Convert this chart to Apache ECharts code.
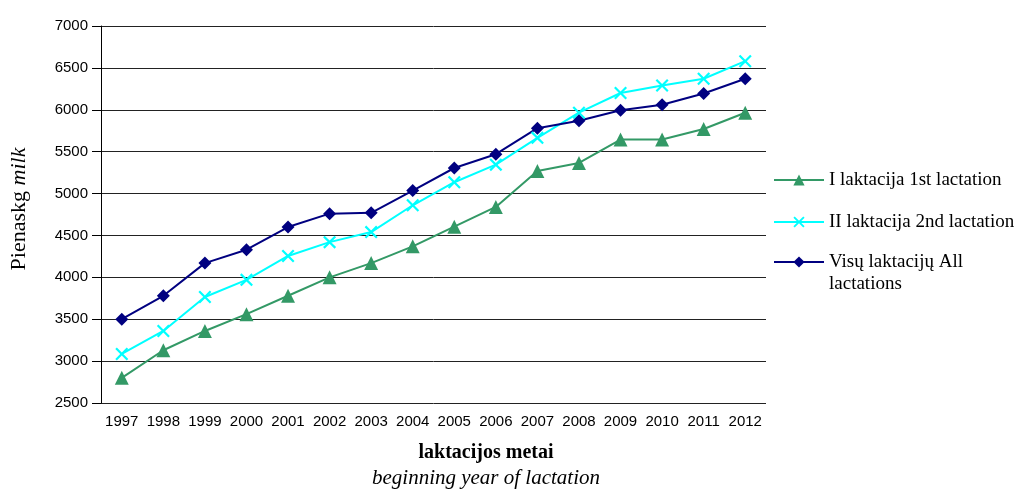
<!DOCTYPE html>
<html><head><meta charset="utf-8">
<script src="https://cdn.jsdelivr.net/npm/echarts@6/dist/echarts.min.js"></script>
<style>html,body{margin:0;padding:0;background:#fff}#c{width:1016px;height:490px}</style>
</head><body><div id="c"></div>
<script>
var years = ['1997','1998','1999','2000','2001','2002','2003','2004','2005','2006','2007','2008','2009','2010','2011','2012'];
var firstLact = [2800,3130,3360,3560,3780,4000,4170,4370,4605,4840,5270,5365,5645,5645,5770,5965];
var secondLact = [3085,3360,3765,3970,4255,4420,4540,4860,5135,5345,5665,5965,6200,6290,6370,6580];
var allLact = [3500,3780,4170,4330,4600,4760,4770,5035,5305,5470,5780,5870,5995,6060,6195,6370];
var seriesNames = ['I laktacija 1st lactation','II laktacija 2nd lactation','Visų laktacijų All lactations'];
var yTicks = {min:2500, max:7000, interval:500};

var xPath = 'path://M0,1.2 L1.2,0 L5,3.8 L8.8,0 L10,1.2 L6.2,5 L10,8.8 L8.8,10 L5,6.2 L1.2,10 L0,8.8 L3.8,5 Z';
var legendText = {fontFamily:'Liberation Serif', fontSize:19, color:'#000', lineHeight:22};
var chart = echarts.init(document.getElementById('c'));
chart.setOption({
  animation:false,
  grid:{left:101,right:250,top:26,bottom:87},
  legend:[{
    orient:'vertical', left:773, top:169, padding:0, itemWidth:50, itemHeight:14, itemGap:20,
    textStyle:legendText,
    data:[seriesNames[0], seriesNames[1]]
  },{
    orient:'vertical', left:773, top:229, padding:0, itemWidth:50, itemHeight:14,
    textStyle:legendText,
    formatter:function(n){ return ' \nVisų laktacijų All\nlactations'; },
    data:[seriesNames[2]]
  }],
  xAxis:{
    type:'category', data:years, boundaryGap:true,
    axisLine:{show:false}, axisTick:{show:false},
    axisLabel:{fontFamily:'Liberation Sans', fontSize:15, color:'#000', margin:11, interval:0}
  },
  yAxis:{
    type:'value', min:yTicks.min, max:yTicks.max, interval:yTicks.interval,
    axisLine:{show:true, lineStyle:{color:'#000', width:1}},
    axisTick:{show:true, length:9, lineStyle:{color:'#000'}},
    splitLine:{lineStyle:{color:'#222', width:1}},
    axisLabel:{fontFamily:'Liberation Sans', fontSize:15, color:'#000', margin:13,
      formatter:function(v){ return String(v); }}
  },
  graphic:[
    {type:'text', x:19, y:209, rotation:Math.PI/2,
     style:{text:'{a|Pienaskg}{b| milk}', align:'center', verticalAlign:'middle',
       rich:{a:{fontFamily:'Liberation Serif', fontSize:22, fill:'#000'},
             b:{fontFamily:'Liberation Serif', fontSize:22, fontStyle:'italic', fill:'#000'}}}},
    {type:'text', x:486, y:453, style:{text:'laktacijos metai', align:'center', verticalAlign:'middle',
       fontFamily:'Liberation Serif', fontSize:20, fontWeight:'bold', fill:'#000'}},
    {type:'text', x:486, y:478, style:{text:'beginning year of lactation', align:'center', verticalAlign:'middle',
       fontFamily:'Liberation Serif', fontSize:21, fontStyle:'italic', fill:'#000'}}
  ],
  series:[
    {name:seriesNames[0], type:'line', data:firstLact, symbol:'triangle', symbolSize:14,
     lineStyle:{color:'#339966', width:2}, itemStyle:{color:'#339966'}},
    {name:seriesNames[1], type:'line', data:secondLact, symbol:xPath, symbolSize:13,
     lineStyle:{color:'#00FFFF', width:2}, itemStyle:{color:'#00FFFF'}},
    {name:seriesNames[2], type:'line', data:allLact, symbol:'diamond', symbolSize:13,
     lineStyle:{color:'#000080', width:2}, itemStyle:{color:'#000080'}}
  ]
});
</script></body></html>
